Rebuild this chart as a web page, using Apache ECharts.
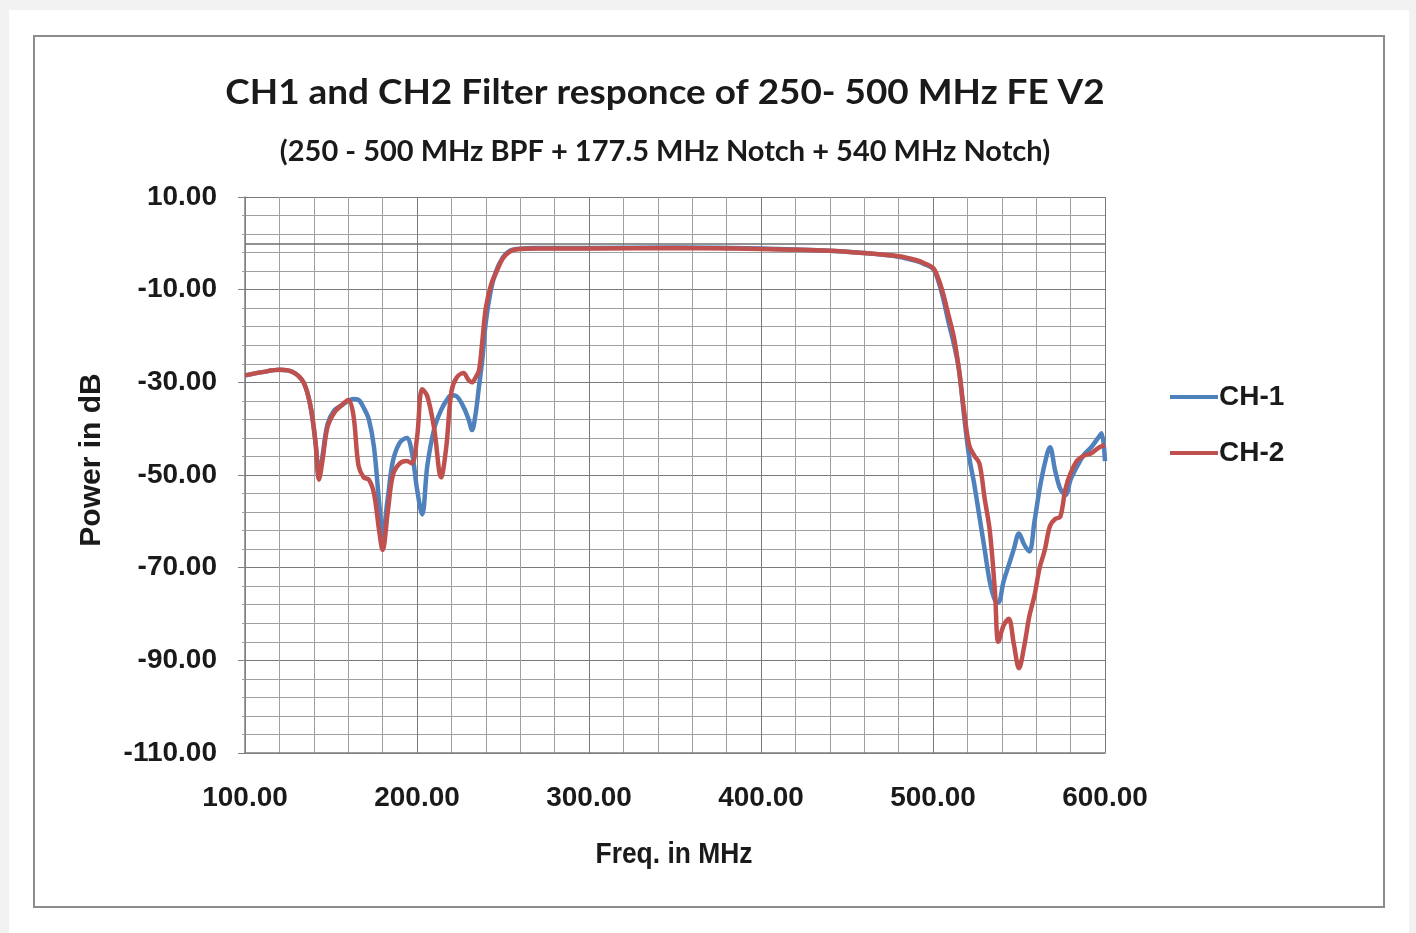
<!DOCTYPE html>
<html>
<head>
<meta charset="utf-8">
<script src="https://cdn.jsdelivr.net/npm/echarts@6/dist/echarts.min.js"></script>
<style>
html,body{margin:0;padding:0;background:#f2f2f2;}
#c{width:1416px;height:933px;}
</style>
</head>
<body>
<div id="c"></div>
<script>
// ---- data ----
const freq = [100,110,120,128,134,138,141,143,145,148,152,156,160,163,166,169,172,175,178,180,183,186,190,194,197,200,203,206,210,214,217,220,223,227,230,232,234,236,238,240,243,246,250,254,258,270,300,350,400,440,460,480,490,495,500,503,506,509,512,515,518,521,524,527,530,533,536,538,541,544,547,550,553,556,559,562,565,568,571,574,577,580,584,588,592,596,598,600];
const ch1 = [-28.5,-27.8,-27.3,-27.8,-30,-35,-43,-50,-46,-39,-36,-35,-34,-33.6,-33.8,-35.5,-38,-44,-56,-63,-55,-47,-43,-42,-45,-53,-58.5,-48,-40,-36,-34,-32.8,-33,-35.3,-38,-40.3,-37,-31,-25,-17,-10,-6,-3,-1.6,-1.2,-1.0,-1.0,-0.9,-1.1,-1.6,-2.1,-2.9,-3.8,-4.5,-5.5,-8,-12,-17,-21.5,-27,-37,-46,-52,-59,-66,-73,-77,-77.5,-73,-69.5,-66,-62.6,-65,-66.5,-60,-53,-47.5,-44,-49,-53,-54.3,-51,-48,-45.5,-44,-42,-41,-47];
const ch2 = [-28.5,-27.8,-27.3,-27.8,-30,-35,-43,-51,-47,-39.6,-36.5,-35,-33.8,-37,-48,-50.5,-51,-54,-62,-66.2,-58,-50,-47.5,-47,-47.5,-42,-31.5,-33,-40,-50.5,-44,-32,-29,-28,-29.5,-30,-29,-27.5,-21,-14,-9,-6.3,-3.2,-1.8,-1.3,-1.1,-1.1,-1.0,-1.2,-1.6,-2.1,-2.8,-3.6,-4.3,-5.3,-7.5,-11,-15.5,-20,-27,-36,-43.5,-45.8,-47.5,-55,-62,-75,-86,-82.5,-81,-86.5,-91.7,-87,-80.5,-76,-70,-66.2,-61,-59.5,-59,-53,-49.6,-46.8,-45.8,-45.3,-44.2,-43.8,-43.5];
const seriesNames = ['CH-1','CH-2'];
const titleText = 'CH1 and CH2 Filter responce of 250- 500 MHz FE V2';
const subtitleText = '(250 - 500 MHz BPF + 177.5 MHz Notch + 540 MHz Notch)';
const xName = 'Freq. in MHz';
const yName = 'Power in dB';

const pair = (ys) => freq.map((f, i) => [f, ys[i]]);
const sans = '"Liberation Sans", Arial, sans-serif';
const chart = echarts.init(document.getElementById('c'));
chart.setOption({
  backgroundColor: '#f2f2f2',
  animation: false,
  grid: {left: 245, right: 311, top: 197, bottom: 180, containLabel: false},
  graphic: [
    {type: 'rect', z: -10, shape: {x: 9, y: 10, width: 1400, height: 923}, style: {fill: '#ffffff'}},
    {type: 'rect', z: -9, shape: {x: 34, y: 36, width: 1350, height: 871}, style: {fill: '#ffffff', stroke: '#8c8c8c', lineWidth: 2}},
    {type: 'text', x: 665, y: 93, scaleX: 1.085, style: {text: titleText, font: 'bold 34px Lato, "Open Sans", sans-serif', fill: '#1a1a1a', align: 'center', verticalAlign: 'middle'}},
    {type: 'text', x: 665, y: 152, scaleX: 1.0, style: {text: subtitleText, font: 'bold 29px Lato, "Open Sans", sans-serif', fill: '#1a1a1a', align: 'center', verticalAlign: 'middle'}},
    {type: 'text', x: 674, y: 855, scaleX: 0.88, style: {text: xName, font: 'bold 30px ' + sans, fill: '#1a1a1a', align: 'center', verticalAlign: 'middle'}},
    {type: 'text', x: 92, y: 460, rotation: Math.PI / 2, style: {text: yName, font: 'bold 30px ' + sans, fill: '#1a1a1a', align: 'center', verticalAlign: 'middle'}}
  ],
  legend: {
    orient: 'vertical', left: 1165, top: 378, itemGap: 28, itemWidth: 48, itemHeight: 4, icon: 'rect',
    data: seriesNames,
    textStyle: {fontFamily: sans, fontWeight: 'bold', fontSize: 28, color: '#1a1a1a', padding: [0,0,0,-4]}
  },
  xAxis: {
    type: 'value', min: 100, max: 600, interval: 100, minorTick: {show: false, splitNumber: 5},
    axisLine: {show: true, onZero: false, lineStyle: {color: '#808080', width: 1.5}},
    axisTick: {show: false},
    axisLabel: {margin: 31, formatter: v => v.toFixed(2), fontFamily: sans, fontWeight: 'bold', fontSize: 28, color: '#1a1a1a'},
    splitLine: {show: true, lineStyle: {color: '#7a7a7a', width: 1}},
    minorSplitLine: {show: true, lineStyle: {color: '#a0a0a0', width: 1}}
  },
  yAxis: {
    type: 'value', min: -110, max: 10, interval: 20,
    axisLine: {show: true, lineStyle: {color: '#808080', width: 1.5}},
    axisTick: {show: true, length: 7, lineStyle: {color: '#808080'}},
    minorTick: {show: true, splitNumber: 5, length: 3, lineStyle: {color: '#a0a0a0'}},
    axisLabel: {margin: 28, formatter: v => v.toFixed(2), fontFamily: sans, fontWeight: 'bold', fontSize: 28, color: '#1a1a1a'},
    splitLine: {show: true, lineStyle: {color: '#7a7a7a', width: 1}},
    minorSplitLine: {show: true, lineStyle: {color: '#a0a0a0', width: 1}}
  },
  series: [
    {name: seriesNames[0], type: 'line', data: pair(ch1), smooth: 0.35, showSymbol: false, lineStyle: {color: '#4f81bd', width: 4.5}, itemStyle: {color: '#4f81bd'},
     markLine: {silent: true, symbol: 'none', label: {show: false}, lineStyle: {color: '#6e6e6e', width: 1.5, type: 'solid'}, data: [{yAxis: 0}]}},
    {name: seriesNames[1], type: 'line', data: pair(ch2), smooth: 0.35, showSymbol: false, lineStyle: {color: '#c0504d', width: 4.5}, itemStyle: {color: '#c0504d'}}
  ]
});
</script>
</body>
</html>
